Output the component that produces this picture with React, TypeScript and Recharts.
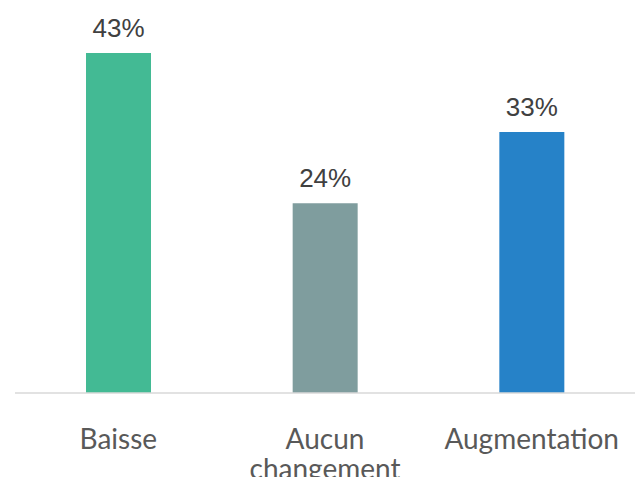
import { BarChart, Bar, XAxis, YAxis, Cell, LabelList } from "recharts";

const categories = ["Baisse", "Aucun changement", "Augmentation"];
const values = [43, 24, 33];
const colors = ["#43BA94", "#7F9D9E", "#2682C8"];

const data = categories.map((name, i) => ({ name, value: values[i] }));

const splitLabel = (name: string) =>
  name === "Aucun changement" ? ["Aucun", "changement"] : [name];

const CategoryTick = (props: any) => {
  const { x, y, payload } = props;
  const lines = splitLabel(payload.value);
  return (
    <text
      x={x}
      y={y}
      textAnchor="middle"
      fill="#595959"
      fontFamily="Lato"
      fontSize={28}
    >
      {lines.map((line, i) => (
        <tspan key={i} x={x} y={y + 48 + i * 30}>
          {line}
        </tspan>
      ))}
    </text>
  );
};

const ValueLabel = (props: any) => {
  const { x, y, width, value } = props;
  return (
    <text
      x={x + width / 2}
      y={y - 16}
      textAnchor="middle"
      fill="#404040"
      fontFamily="Liberation Sans"
      fontSize={26}
    >
      {value}%
    </text>
  );
};

export default function App() {
  return (
    <div style={{ position: "absolute", left: 0, top: 0, background: "#fff" }}>
      <BarChart
        width={642}
        height={477}
        data={data}
        margin={{ top: 53, right: 7, bottom: 0, left: 15 }}
      >
        <YAxis hide domain={[0, 43]} />
        <XAxis
          dataKey="name"
          axisLine={{ stroke: "#D9D9D9", strokeWidth: 1.5 }}
          tickLine={false}
          tick={<CategoryTick />}
          interval={0}
          height={84}
        />
        <Bar dataKey="value" barSize={65} isAnimationActive={false}>
          {data.map((d, i) => (
            <Cell key={d.name} fill={colors[i]} />
          ))}
          <LabelList dataKey="value" content={<ValueLabel />} />
        </Bar>
      </BarChart>
    </div>
  );
}
